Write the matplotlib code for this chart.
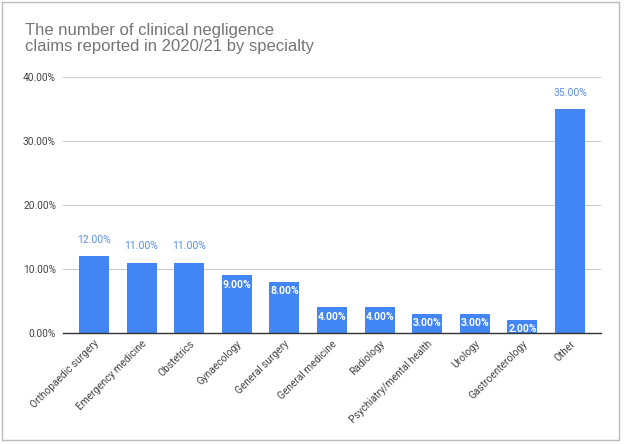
import matplotlib
matplotlib.use("Agg")
import matplotlib.pyplot as plt
from matplotlib.patches import Rectangle

categories = ["Orthopaedic surgery", "Emergency medicine", "Obstetrics", "Gynaecology",
              "General surgery", "General medicine", "Radiology", "Psychiatry/mental health",
              "Urology", "Gastroenterology", "Other"]
values = [12, 11, 11, 9, 8, 4, 4, 3, 3, 2, 35]
yticks = [0, 10, 20, 30, 40]
title = "The number of clinical negligence\nclaims reported in 2020/21 by specialty"

plt.rcParams['font.family'] = ['Roboto', 'DejaVu Sans']
fig = plt.figure(figsize=(6.24, 4.44), dpi=100)
ax = fig.add_axes([63/624, 1-333/444, (601-63)/624, (333-77)/444])

x = list(range(len(categories)))
ax.bar(x, values, width=0.63, color="#4285F4", zorder=3)
ax.set_xlim(-0.65, len(categories) - 0.35)
ax.set_ylim(0, 40)
ax.set_yticks(yticks)
ax.set_yticklabels([f"{v:.2f}%" for v in yticks], color="#444444", fontsize=7.3)
ax.set_xticks(x)
ax.set_xticklabels(categories, rotation=45, ha="right", rotation_mode="anchor",
                   color="#444444", fontsize=7.3)
ax.tick_params(axis="both", length=0, pad=5)
ax.tick_params(axis="x", pad=4)
ax.grid(axis="y", color="#cccccc", linewidth=0.8, zorder=0)
for s in ["top", "right", "left"]:
    ax.spines[s].set_visible(False)
ax.spines["bottom"].set_color("#333333")
ax.spines["bottom"].set_linewidth(1.0)
ax.spines["bottom"].set_zorder(4)

for xi, v in zip(x, values):
    if v >= 10:
        ax.annotate(f"{v:.2f}%", (xi, v), xytext=(0, 8), textcoords="offset points",
                    ha="center", va="bottom", color="#5b8ee6", fontsize=7.5)
    else:
        ax.annotate(f"{v:.2f}%", (xi, v), xytext=(0, -3), textcoords="offset points",
                    ha="center", va="top", color="white", fontsize=7.5, fontweight="bold")

fig.text(25/624, 1-23/444, title, ha="left", va="top", fontsize=12, color="#757575",
         linespacing=1.12, family=["Liberation Sans", "DejaVu Sans"])

fig.patches.append(Rectangle((2/624, 4/444), 617/624, 438/444, transform=fig.transFigure,
                             fill=False, edgecolor="#bbbbbb", linewidth=1))

fig.savefig("out.png", dpi=100)
